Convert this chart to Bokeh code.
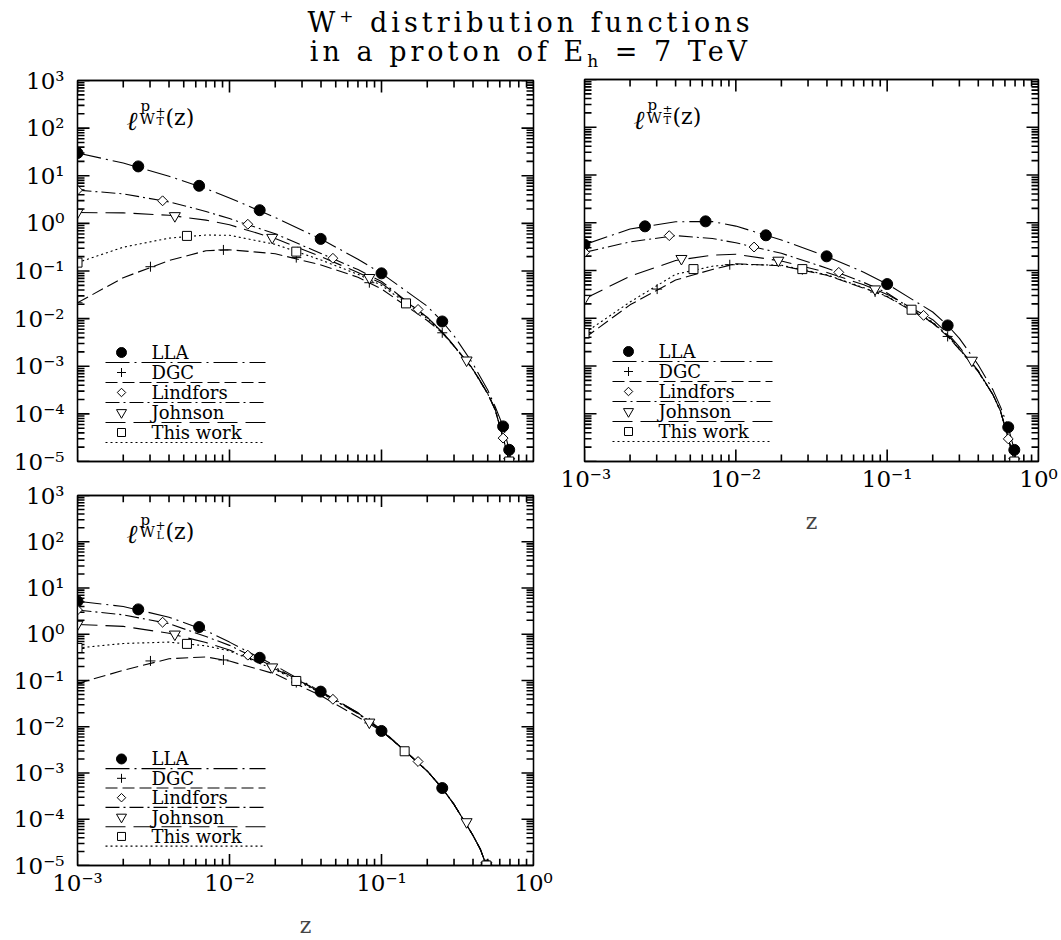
import math
from bokeh.plotting import figure
from bokeh.models import Range1d, LogAxis, FixedTicker, CustomJSTickFormatter, Div
from bokeh.layouts import column, row
from bokeh.embed import file_html
from bokeh.resources import INLINE
from bokeh.core.properties import value

# ------------------------------------------------------------------ data
series_names = ["LLA", "DGC", "Lindfors", "Johnson", "This work"]

x_major = [0.001, 0.01, 0.1, 1.0]
y_major = [1e-5, 1e-4, 1e-3, 1e-2, 1e-1, 1e0, 1e1, 1e2, 1e3]

# curve sampling points, upper panels (W_T and W_Tbar)
z_curve_top = [0.001, 0.002, 0.004, 0.007, 0.01, 0.02, 0.04, 0.07, 0.1,
               0.2, 0.251, 0.3, 0.4, 0.5, 0.56, 0.631, 0.692]

# panel 1 : f_{W_T^+}
t_lla = [30.0, 18.5, 9.77, 5.37, 3.41, 1.33, 0.468, 0.176, 0.0893,
         0.0182, 0.00871, 0.00437, 0.00112, 3.16e-4, 1.41e-4, 5.46e-5, 1.76e-5]
t_dgc = [0.0215, 0.0724, 0.166, 0.266, 0.279, 0.231, 0.134, 0.0741, 0.0419,
         0.00912, 0.00501, 0.00263, 8.51e-4, 2.63e-4, 1.20e-4, 3.16e-5, 1e-5]
t_lin = [4.99, 4.17, 2.82, 1.78, 1.26, 0.603, 0.234, 0.107, 0.0603,
         0.0105, 0.00525, 0.00269, 8.71e-4, 2.69e-4, 1.23e-4, 3.16e-5, 1e-5]
t_joh = [1.69, 1.66, 1.48, 1.17, 0.933, 0.479, 0.200, 0.0933, 0.0550,
         0.0107, 0.00525, 0.00269, 8.71e-4, 2.69e-4, 1.23e-4, 3.16e-5, 1e-5]
t_thw = [0.150, 0.316, 0.490, 0.569, 0.562, 0.363, 0.170, 0.0851, 0.0501,
         0.0100, 0.00513, 0.00263, 8.51e-4, 2.63e-4, 1.20e-4, 3.16e-5, 1e-5]

# panel 2 : f_{W_Tbar^+}
tb_lla = [0.348, 0.741, 1.05, 1.06, 0.851, 0.437, 0.196, 0.0923, 0.0520,
          0.0135, 0.00708, 0.00380, 0.00105, 3.16e-4, 1.41e-4, 5.22e-5, 1.75e-5]
tb_dgc = [0.00384, 0.0191, 0.0631, 0.105, 0.138, 0.126, 0.0794, 0.0427, 0.0282,
          0.00794, 0.00417, 0.00224, 7.59e-4, 2.51e-4, 1.15e-4, 3.16e-5, 1e-5]
tb_lin = [0.240, 0.398, 0.537, 0.468, 0.380, 0.229, 0.112, 0.0562, 0.0339,
          0.00794, 0.00447, 0.00234, 7.76e-4, 2.51e-4, 1.15e-4, 3.16e-5, 1e-5]
tb_joh = [0.0256, 0.0759, 0.162, 0.209, 0.219, 0.158, 0.0912, 0.0501, 0.0316,
          0.00933, 0.00479, 0.00251, 7.94e-4, 2.51e-4, 1.15e-4, 3.16e-5, 1e-5]
tb_thw = [0.00489, 0.0219, 0.0832, 0.123, 0.135, 0.129, 0.0813, 0.0437, 0.0288,
          0.00832, 0.00427, 0.00224, 7.59e-4, 2.51e-4, 1.15e-4, 3.16e-5, 1e-5]

# panel 3 : f_{W_L^+}
z_curve_low = [0.001, 0.002, 0.004, 0.007, 0.01, 0.02, 0.04, 0.07, 0.1,
               0.144, 0.2, 0.251, 0.3, 0.355, 0.4, 0.447, 0.49]
l_lla = [5.16, 3.98, 2.34, 1.20, 0.676, 0.209, 0.0575, 0.0200, 0.00813,
         0.00292, 0.00110, 4.68e-4, 2.09e-4, 8.51e-5, 4.47e-5, 2.24e-5, 1e-5]
l_dgc = [0.0859, 0.166, 0.295, 0.324, 0.263, 0.138, 0.0468, 0.0162, 0.00813,
         0.00292, 0.00110, 4.68e-4, 2.09e-4, 8.51e-5, 4.47e-5, 2.24e-5, 1e-5]
l_lin = [3.34, 2.63, 1.70, 0.891, 0.575, 0.191, 0.0550, 0.0191, 0.00832,
         0.00292, 0.00110, 4.68e-4, 2.09e-4, 8.51e-5, 4.47e-5, 2.24e-5, 1e-5]
l_joh = [1.63, 1.48, 1.05, 0.661, 0.457, 0.178, 0.0575, 0.0200, 0.00871,
         0.00292, 0.00110, 4.68e-4, 2.09e-4, 8.51e-5, 4.47e-5, 2.24e-5, 1e-5]
l_thw = [0.504, 0.631, 0.676, 0.562, 0.437, 0.170, 0.0537, 0.0195, 0.00851,
         0.00292, 0.00110, 4.68e-4, 2.09e-4, 8.51e-5, 4.47e-5, 2.24e-5, 1e-5]

# marker positions (upper panels share z)
zm_lla = [0.001, 0.00251, 0.00631, 0.0158, 0.0398, 0.1, 0.251, 0.631, 0.692]
zm_dgc = [0.001, 0.00302, 0.00912, 0.0275, 0.0832, 0.251, 0.692]
zm_lin = [0.001, 0.00363, 0.0132, 0.0479, 0.174, 0.631, 0.692]
zm_joh = [0.001, 0.00437, 0.0191, 0.0832, 0.363, 0.692]
zm_thw = [0.001, 0.00525, 0.0275, 0.145, 0.692]

tm_lla = [30.0, 15.7, 6.15, 1.89, 0.472, 0.0893, 0.00871, 5.46e-5, 1.76e-5]
tm_dgc = [0.0215, 0.123, 0.277, 0.191, 0.0568, 0.00504, 1e-5]
tm_lin = [4.99, 2.98, 0.959, 0.185, 0.0156, 3.10e-5, 1e-5]
tm_joh = [1.69, 1.44, 0.504, 0.0724, 0.00134, 1e-5]
tm_thw = [0.150, 0.546, 0.255, 0.0209, 1e-5]

tbm_lla = [0.348, 0.841, 1.07, 0.546, 0.198, 0.0520, 0.00708, 5.22e-5, 1.75e-5]
tbm_dgc = [0.00384, 0.0408, 0.132, 0.104, 0.0354, 0.00416, 1e-5]
tbm_lin = [0.240, 0.537, 0.310, 0.0914, 0.0115, 2.98e-5, 1e-5]
tbm_joh = [0.0256, 0.177, 0.163, 0.0408, 0.00131, 1e-5]
tbm_thw = [0.00489, 0.107, 0.107, 0.0151, 1e-5]

lzm_lla = [0.001, 0.00251, 0.00631, 0.0158, 0.0398, 0.1, 0.251, 0.49]
lzm_dgc = [0.001, 0.00302, 0.00912, 0.0275, 0.0832, 0.251, 0.49]
lzm_lin = [0.001, 0.00363, 0.0132, 0.0479, 0.174, 0.49]
lzm_joh = [0.001, 0.00437, 0.0191, 0.0832, 0.363, 0.49]
lzm_thw = [0.001, 0.00525, 0.0275, 0.142, 0.49]

lm_lla = [5.16, 3.45, 1.43, 0.310, 0.0575, 0.00811, 4.73e-4, 1e-5]
lm_dgc = [0.0859, 0.265, 0.278, 0.0902, 0.0121, 4.68e-4, 1e-5]
lm_lin = [3.34, 1.82, 0.353, 0.0392, 0.00177, 1e-5]
lm_joh = [1.63, 1.0, 0.195, 0.0125, 8.77e-5, 1e-5]
lm_thw = [0.504, 0.619, 0.0977, 0.00295, 1e-5]

# ------------------------------------------------------------------ styles
FONT = "DejaVu Serif"
STYLE = {
    "LLA":       dict(marker="circle", size=11, fill="black", dash="24 5 2 5", angle=0.0),
    "DGC":       dict(marker="cross", size=10, fill=None, dash="12 5", angle=0.0),
    "Lindfors":  dict(marker="square", size=7, fill="white", dash="14 4 2 4", angle=math.pi / 4),
    "Johnson":   dict(marker="inverted_triangle", size=11, fill="white", dash="20 8", angle=0.0),
    "This work": dict(marker="square", size=9, fill="white", dash="2 3", angle=0.0),
}

SUP = CustomJSTickFormatter(code="""
const e = Math.round(Math.log10(tick));
const m = {'-':'\u207b','0':'\u2070','1':'\u00b9','2':'\u00b2','3':'\u00b3',
           '4':'\u2074','5':'\u2075','6':'\u2076','7':'\u2077','8':'\u2078','9':'\u2079'};
return '10' + String(e).split('').map(c => m[c]).join('');
""")

x_minor = [m * 10.0 ** e for e in range(-3, 0) for m in range(2, 10)]
y_minor = [m * 10.0 ** e for e in range(-5, 3) for m in range(2, 10)]

MAJ_LEN = 12
MIN_LEN = 7
TICK_W = 1.6


def style_axis(ax, is_x, show):
    ax.ticker = FixedTicker(ticks=x_major if is_x else y_major,
                            minor_ticks=x_minor if is_x else y_minor)
    ax.major_tick_in = 0
    ax.major_tick_out = 0
    ax.minor_tick_in = 0
    ax.minor_tick_out = 0
    ax.axis_line_color = "black"
    ax.axis_line_width = 1.3
    if show:
        ax.formatter = SUP
        ax.major_label_text_font = FONT
        ax.major_label_text_font_size = "23px"
        ax.major_label_text_color = "black"
        ax.major_label_standoff = 4 if is_x else 13
    else:
        ax.major_label_text_color = None
        ax.major_label_text_font_size = "1px"
        ax.major_label_standoff = 0


def make_panel(width, height, bl, br, bt, bb, W, H, curves, markers, zc, sub_sym,
               show_x, show_y):
    p = figure(width=width, height=height, x_axis_type="log", y_axis_type="log",
               x_range=Range1d(1e-3, 1.0), y_range=Range1d(1e-5, 1e3),
               output_backend="svg", toolbar_location=None,
               min_border_left=bl, min_border_right=br,
               min_border_top=bt, min_border_bottom=bb)
    p.grid.visible = False
    p.outline_line_color = "black"
    p.outline_line_alpha = 1.0
    p.outline_line_width = 1.3
    p.background_fill_color = None
    p.border_fill_color = None

    style_axis(p.below[0], True, show_x)
    style_axis(p.left[0], False, show_y)
    if show_x:
        p.below[0].axis_label = "z"
        p.below[0].axis_label_text_font = FONT
        p.below[0].axis_label_text_font_style = "normal"
        p.below[0].axis_label_text_font_size = "22px"
        p.below[0].axis_label_standoff = 14
    top_ax = LogAxis()
    style_axis(top_ax, True, False)
    p.add_layout(top_ax, "above")
    right_ax = LogAxis()
    style_axis(right_ax, False, False)
    p.add_layout(right_ax, "right")

    # frame pixel -> data helpers (for legend / label / tick placement)
    def fx(dx):
        return 10 ** (-3 + 3.0 * dx / W)

    def fy(dy):
        return 10 ** (3 - 8.0 * dy / H)

    # half tick width expressed as multiplicative factors in log space
    hx = 10 ** (3.0 * (TICK_W / 2.0) / W)
    hy = 10 ** (8.0 * (TICK_W / 2.0) / H)

    # inward tick marks on all four sides, drawn as thin filled bars
    left, right, bottom, top = [], [], [], []
    for ticks, L in ((x_major, MAJ_LEN), (x_minor, MIN_LEN)):
        for t in ticks:
            # bottom edge
            left.append(t / hx); right.append(t * hx)
            bottom.append(1e-5); top.append(fy(H - L))
            # top edge
            left.append(t / hx); right.append(t * hx)
            bottom.append(fy(L)); top.append(1e3)
    for ticks, L in ((y_major, MAJ_LEN), (y_minor, MIN_LEN)):
        for t in ticks:
            # left edge
            left.append(1e-3); right.append(fx(L))
            bottom.append(t / hy); top.append(t * hy)
            # right edge
            left.append(fx(W - L)); right.append(1.0)
            bottom.append(t / hy); top.append(t * hy)
    p.quad(left=left, right=right, bottom=bottom, top=top,
           fill_color="black", fill_alpha=1.0, line_color=None)

    # curves
    for name in series_names:
        st = STYLE[name]
        p.line(zc, curves[name], line_color="black", line_width=1.1,
               line_dash=st["dash"])
    # markers
    for name in series_names:
        st = STYLE[name]
        mz, mf = markers[name]
        p.scatter(mz, mf, marker=st["marker"], size=st["size"], angle=st["angle"],
                  line_color="black", line_width=1,
                  fill_color=st["fill"] if st["fill"] else "black",
                  fill_alpha=1.0 if st["fill"] else 0.0)

    # legend
    for i, name in enumerate(series_names):
        st = STYLE[name]
        yt = fy(272 + 20 * i)
        yl = fy(282 + 20 * i)
        p.scatter([fx(44)], [yt], marker=st["marker"], size=st["size"] - 1,
                  angle=st["angle"], line_color="black",
                  fill_color=st["fill"] if st["fill"] else "black",
                  fill_alpha=1.0 if st["fill"] else 0.0)
        p.text([fx(74)], [yt], text=[name], text_font=value(FONT),
               text_font_size="18px", text_baseline="middle", text_align="left",
               text_color="black")
        p.line([fx(28), fx(188)], [yl, yl], line_color="black",
               line_width=1.1, line_dash=st["dash"])

    # panel label  l^p_{W^+_X}(z)
    pieces = [
        ("\u2113", 49, 40, "26px", "italic"),
        ("p", 63, 25, "15px", "normal"),
        ("W", 62, 38, "15px", "normal"),
        (sub_sym[0], 78, 30, "12px", "normal"),
        (sub_sym[1], 79, 41, "11px", "normal"),
        ("(z)", 88, 37, "22px", "normal"),
    ]
    for txt, dx, dy, fs, fst in pieces:
        p.text([fx(dx)], [fy(dy)], text=[txt], text_font=value(FONT),
               text_font_size=fs, text_font_style=fst, text_baseline="alphabetic",
               text_align="left", text_color="black")
    return p


curves_t = dict(zip(series_names, [t_lla, t_dgc, t_lin, t_joh, t_thw]))
curves_tb = dict(zip(series_names, [tb_lla, tb_dgc, tb_lin, tb_joh, tb_thw]))
curves_l = dict(zip(series_names, [l_lla, l_dgc, l_lin, l_joh, l_thw]))

zm_all = [zm_lla, zm_dgc, zm_lin, zm_joh, zm_thw]
markers_t = dict(zip(series_names, zip(zm_all, [tm_lla, tm_dgc, tm_lin, tm_joh, tm_thw])))
markers_tb = dict(zip(series_names, zip(zm_all, [tbm_lla, tbm_dgc, tbm_lin, tbm_joh, tbm_thw])))
markers_l = dict(zip(series_names, zip([lzm_lla, lzm_dgc, lzm_lin, lzm_joh, lzm_thw],
                                       [lm_lla, lm_dgc, lm_lin, lm_joh, lm_thw])))

p1 = make_panel(560, 410, 77, 27, 15, 14, 456, 381, curves_t, markers_t,
                z_curve_top, ("+", "T"), show_x=False, show_y=True)
p3 = make_panel(560, 465, 77, 27, 20, 63, 456, 382, curves_l, markers_l,
                z_curve_low, ("+", "L"), show_x=True, show_y=True)
p2 = make_panel(501, 875, 24, 23, 14, 479, 454, 382, curves_tb, markers_tb,
                z_curve_top, ("\u00b1", "T"), show_x=True, show_y=False)

title = Div(text="W<sup style='font-size:17px'>+</sup> distribution functions<br>"
                 "in a proton of E<sub style='font-size:17px'>h</sub> = 7 TeV",
            width=1061, height=65, margin=(0, 0, 0, 0),
            styles={"font-family": "DejaVu Serif", "font-size": "27px",
                    "letter-spacing": "4px", "text-align": "center",
                    "line-height": "29px", "color": "black",
                    "padding-top": "2px", "width": "1061px"})

layout = column(title, row(column(p1, p3), p2))

open("out.html", "w").write(file_html(layout, INLINE))
